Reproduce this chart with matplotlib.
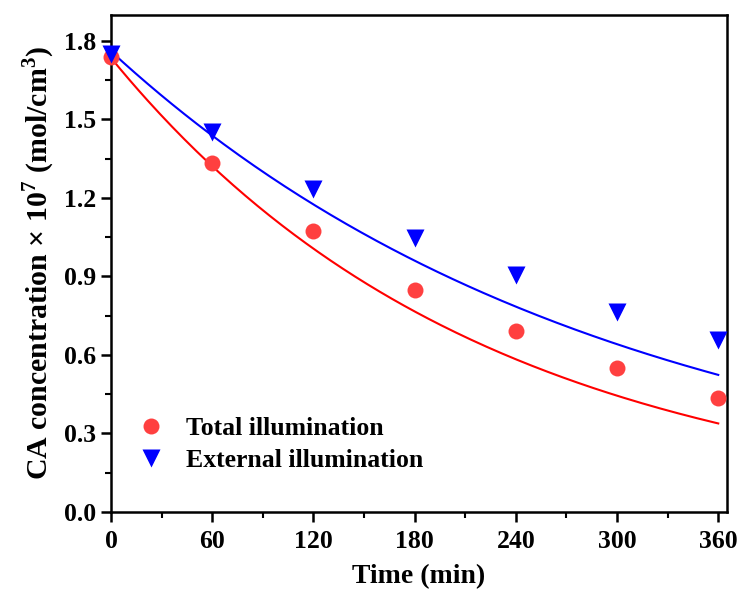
import numpy as np
import matplotlib
matplotlib.use("Agg")
import matplotlib.pyplot as plt
from matplotlib.ticker import MultipleLocator

plt.rcParams['font.family'] = ['Liberation Serif', 'DejaVu Serif']
plt.rcParams['font.weight'] = 'bold'
plt.rcParams['mathtext.fontset'] = 'custom'
plt.rcParams['mathtext.rm'] = 'Liberation Serif:bold'
plt.rcParams['mathtext.bf'] = 'Liberation Serif:bold'

# measured CA concentration (x 1e7 mol/cm3)
time_min = [0, 60, 120, 180, 240, 300, 360]
total_conc = [1.74, 1.334, 1.074, 0.85, 0.692, 0.55, 0.436]
external_conc = [1.75, 1.451, 1.233, 1.045, 0.905, 0.763, 0.656]

# first-order decay fits C = C0 * exp(-k t)
total_c0, total_k = 1.735, 0.00454
external_c0, external_k = 1.76, 0.003366

fig = plt.figure(figsize=(7.4, 5.99), dpi=100)
ax = fig.add_axes([0.15, 0.1452, 0.832, 0.8303])

t_fit = np.linspace(0, 360, 200)
ax.plot(t_fit, total_c0 * np.exp(-total_k * t_fit), color='#ff0000', lw=1.5)
ax.plot(t_fit, external_c0 * np.exp(-external_k * t_fit), color='#0000ff', lw=1.5)

ax.plot(time_min, total_conc, 'o', color='#ff4040', ms=11.5, mec='none',
        label='Total illumination', clip_on=False, zorder=3)
ax.plot(time_min, external_conc, 'v', color='#0000ff', ms=13, mec='none',
        label='External illumination', clip_on=False, zorder=3)

ax.set_xlim(0, 365)
ax.set_ylim(0, 1.9)
ax.xaxis.set_major_locator(MultipleLocator(60))
ax.xaxis.set_minor_locator(MultipleLocator(30))
ax.yaxis.set_major_locator(MultipleLocator(0.3))
ax.yaxis.set_minor_locator(MultipleLocator(0.15))
ax.yaxis.set_major_formatter(lambda v, p: f'{v:.1f}')

for s in ax.spines.values():
    s.set_linewidth(1.8)
ax.tick_params(which='major', direction='out', length=7, width=1.8, labelsize=18.5)
ax.tick_params(which='minor', direction='out', length=4, width=1.5)
ax.tick_params(axis='x', pad=6)

ax.set_xlabel('Time (min)', fontsize=20, fontweight='bold', labelpad=8)
ax.set_ylabel(r'CA concentration $\times$ 10$^{7}$ (mol/cm$^{3}$)',
              fontsize=21.5, fontweight='bold', labelpad=5)

leg = ax.legend(loc='lower left', bbox_to_anchor=(0.0, 0.04), frameon=False,
                fontsize=18.5, handlelength=1.5, handletextpad=0.6,
                labelspacing=0.35, borderaxespad=0.4)

fig.savefig('out.png', dpi=100)
